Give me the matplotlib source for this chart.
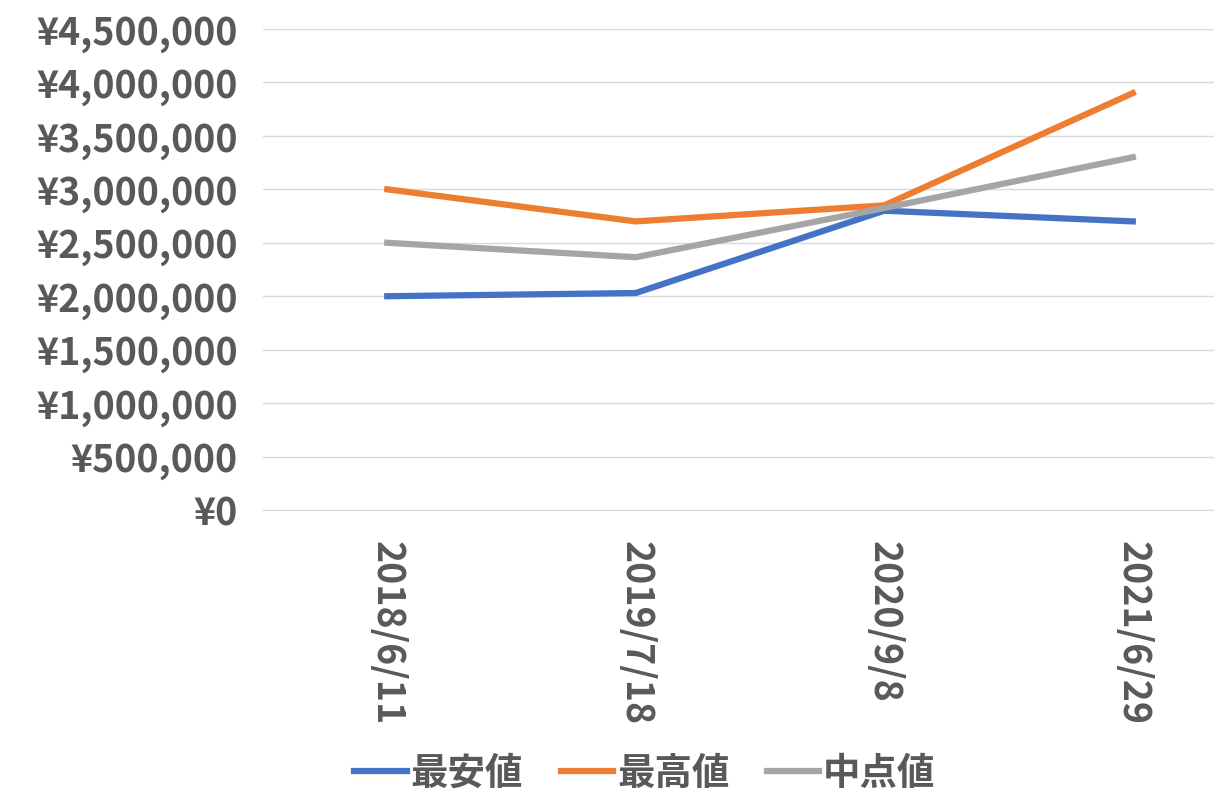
import matplotlib
matplotlib.use("Agg")
import matplotlib.pyplot as plt
from matplotlib.ticker import FuncFormatter

dates = ["2018/6/11", "2019/7/18", "2020/9/8", "2021/6/29"]
low = [2000000, 2030000, 2800000, 2700000]
high = [3000000, 2700000, 2850000, 3900000]
mid = [2500000, 2365000, 2825000, 3300000]

plt.rcParams["font.family"] = ["Noto Sans CJK JP"]
W, H = 1214, 811
fig = plt.figure(figsize=(W/100, H/100), dpi=100)
ax = fig.add_axes([263/W, 1-510/H, (1257-263)/W, (510-29)/H])
x = range(len(dates))
ax.plot(x, low, color="#4472C4", lw=4.5, label="最安値")
ax.plot(x, high, color="#ED7D31", lw=4.5, label="最高値")
ax.plot(x, mid, color="#A5A5A5", lw=4.5, label="中点値")
ax.set_xlim(-0.5, 3.5)
ax.set_ylim(0, 4500000)
ax.set_yticks(range(0, 4500001, 500000))
ax.yaxis.set_major_formatter(FuncFormatter(lambda v, p: f"¥{int(v):,}"))
ax.set_xticks(list(x))
ax.set_xticklabels(dates, rotation=270)
ax.grid(axis="y", color="#D9D9D9", lw=1)
ax.set_axisbelow(True)
for s in ["top", "right", "left"]:
    ax.spines[s].set_visible(False)
ax.spines["bottom"].set_color("#D9D9D9")
ax.tick_params(length=0, labelsize=27, labelcolor="#595959", pad=18)
for t in ax.get_xticklabels() + ax.get_yticklabels():
    t.set_fontweight("bold")
ax.tick_params(axis="x", pad=22)
fig.legend(loc="center", bbox_to_anchor=(645/W, 1-773/H), ncol=3, frameon=False,
           prop={"size": 27, "weight": "bold"}, labelcolor="#595959",
           handlelength=1.4, columnspacing=1.0, handletextpad=0.1)
fig.savefig("out.png", dpi=100)
